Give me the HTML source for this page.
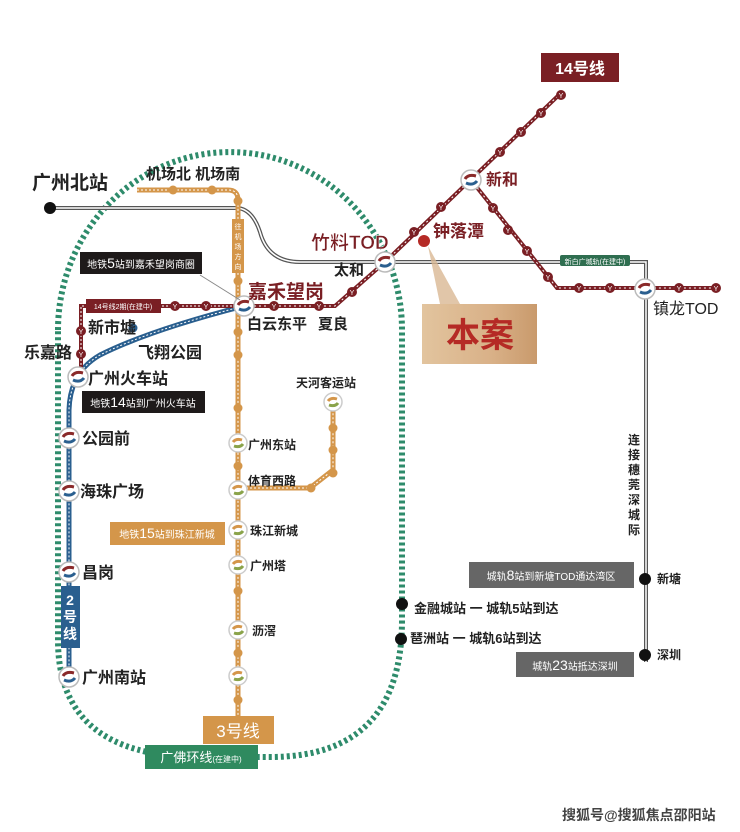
<!DOCTYPE html>
<html><head><meta charset="utf-8"><style>
html,body{margin:0;padding:0;background:#fff;}
svg{display:block;}
text{font-family:"Liberation Sans","Noto Sans CJK SC",sans-serif;}
</style></head><body>
<svg width="740" height="832" viewBox="0 0 740 832" xmlns="http://www.w3.org/2000/svg">
<defs>
<linearGradient id="g" x1="0" y1="0" x2="1" y2="0"><stop offset="0" stop-color="#e2c49e"/><stop offset="0.6" stop-color="#d9b188"/><stop offset="1" stop-color="#c99a6c"/></linearGradient>
<g id="st"><circle r="10" fill="#fff" stroke="#bbb" stroke-width="1.5"/><path d="M-6,-1 Q-3,-6 5,-4" stroke="#8a2a2a" stroke-width="3" fill="none"/><path d="M-5,3 Q2,6 6,1" stroke="#2a5f8f" stroke-width="3" fill="none"/></g>
<g id="sto"><circle r="9" fill="#fff" stroke="#ccc" stroke-width="1.5"/><path d="M-5,-1 Q-2,-5 4,-3" stroke="#d4964a" stroke-width="3" fill="none"/><path d="M-4,3 Q2,5 5,1" stroke="#8aa34a" stroke-width="3" fill="none"/></g>
<g id="y"><circle r="5" fill="#7a1f24"/><text y="3" font-size="7" fill="#fff" text-anchor="middle">Y</text></g>
<g id="yo"><circle r="4.5" fill="#d4964a"/></g>
</defs>

<!-- green loop -->
<path d="M58,330 A172,178 0 0 1 402,330 L402,620 Q402,757 270,757 L200,757 Q58,757 58,640 Z" fill="none" stroke="#2e8b6b" stroke-width="6" stroke-dasharray="3,3"/>

<!-- gray intercity line -->
<path d="M50,208 L236,208 Q252,208 260,232 Q268,262 300,262 L646,262 L646,662" fill="none" stroke="#555" stroke-width="4"/>
<path d="M50,208 L236,208 Q252,208 260,232 Q268,262 300,262 L646,262 L646,662" fill="none" stroke="#fff" stroke-width="1.5"/>
<circle cx="50" cy="208" r="6" fill="#111"/>
<rect x="560" y="255" width="70" height="11" rx="2" fill="#2f6e50"/>
<text x="595" y="264" font-size="7" fill="#fff" text-anchor="middle">新白广城轨(在建中)</text>

<!-- line 3 -->
<path d="M137,190 L228,190 Q238,190 238,200 L238,718" fill="none" stroke="#d4964a" stroke-width="5"/>
<path d="M137,190 L228,190 Q238,190 238,200 L238,718" fill="none" stroke="#fff" stroke-width="1" stroke-dasharray="2,2"/>
<path d="M238,488 L310,488 L333,470 L333,402" fill="none" stroke="#d4964a" stroke-width="5"/>
<path d="M238,488 L310,488 L333,470 L333,402" fill="none" stroke="#fff" stroke-width="1" stroke-dasharray="2,2"/>
<use href="#yo" x="173" y="190"/><use href="#yo" x="212" y="190"/><use href="#yo" x="238" y="201"/><use href="#yo" x="238" y="281"/>
<use href="#yo" x="238" y="332"/><use href="#yo" x="238" y="355"/><use href="#yo" x="238" y="408"/><use href="#yo" x="238" y="466"/><use href="#yo" x="238" y="591"/><use href="#yo" x="238" y="653"/><use href="#yo" x="238" y="700"/>
<use href="#yo" x="311" y="488"/><use href="#yo" x="333" y="428"/><use href="#yo" x="333" y="450"/><use href="#yo" x="333" y="473"/>
<rect x="232" y="219" width="12" height="54" fill="#d4964a"/>
<text font-size="7" fill="#fff" text-anchor="middle"><tspan x="238" y="229">往</tspan><tspan x="238" y="239">机</tspan><tspan x="238" y="249">场</tspan><tspan x="238" y="259">方</tspan><tspan x="238" y="269">向</tspan></text>
<rect x="203" y="716" width="71" height="28" fill="#d4964a"/>
<text x="238" y="737" font-size="17" fill="#fff" text-anchor="middle">3号线</text>

<!-- line 2 -->
<path d="M244,306 Q150,330 100,355 Q70,372 69,410 L69,680" fill="none" stroke="#2a5f8f" stroke-width="5"/>
<path d="M244,306 Q150,330 100,355 Q70,372 69,410 L69,680" fill="none" stroke="#fff" stroke-width="1" stroke-dasharray="2,2"/>
<circle cx="133" cy="328" r="4.5" fill="#2a5f8f"/>
<rect x="61" y="586" width="19" height="62" fill="#2a5f8f"/>
<text font-size="14" font-weight="bold" fill="#fff" text-anchor="middle"><tspan x="70" y="605">2</tspan><tspan x="70" y="622">号</tspan><tspan x="70" y="639">线</tspan></text>

<!-- line 14 phase 2 -->
<path d="M244,306 L81,306 L81,378" fill="none" stroke="#7a1f24" stroke-width="4"/>
<path d="M244,306 L81,306 L81,378" fill="none" stroke="#fff" stroke-width="1" stroke-dasharray="2,2"/>
<rect x="86" y="299" width="75" height="14" fill="#7a1f24"/>
<text x="123" y="309" font-size="7" fill="#fff" text-anchor="middle">14号线2期(在建中)</text>
<use href="#y" x="175" y="306"/><use href="#y" x="206" y="306"/><use href="#y" x="81" y="331"/><use href="#y" x="81" y="354"/>

<!-- line 14 main -->
<path d="M244,306 L335,306 L385,262 L562,92" fill="none" stroke="#7a1f24" stroke-width="4"/>
<path d="M471,180 L557,288 L720,288" fill="none" stroke="#7a1f24" stroke-width="4"/>
<path d="M244,306 L335,306 L385,262 L562,92 M471,180 L557,288 L720,288" fill="none" stroke="#fff" stroke-width="1" stroke-dasharray="2,3"/>
<use href="#y" x="274" y="306"/><use href="#y" x="319" y="306"/><use href="#y" x="352" y="292"/>
<use href="#y" x="414" y="232"/><use href="#y" x="441" y="207"/><use href="#y" x="500" y="152"/><use href="#y" x="521" y="132"/><use href="#y" x="541" y="113"/><use href="#y" x="561" y="95"/>
<use href="#y" x="493" y="208"/><use href="#y" x="508" y="230"/><use href="#y" x="527" y="251"/><use href="#y" x="548" y="277"/>
<use href="#y" x="579" y="288"/><use href="#y" x="610" y="288"/><use href="#y" x="679" y="288"/><use href="#y" x="716" y="288"/>
<rect x="541" y="53" width="78" height="29" fill="#7a1f24"/>
<text x="580" y="74" font-size="16" font-weight="bold" fill="#fff" text-anchor="middle">14号线</text>

<!-- stations -->
<use href="#st" x="244" y="306"/><use href="#st" x="385" y="262"/><use href="#st" x="471" y="180"/><use href="#st" x="645" y="289"/>
<use href="#st" x="78" y="377"/><use href="#st" x="69" y="438"/><use href="#st" x="69" y="491"/><use href="#st" x="69" y="572"/><use href="#st" x="69" y="677"/>
<use href="#sto" x="238" y="443"/><use href="#sto" x="238" y="490"/><use href="#sto" x="238" y="530"/><use href="#sto" x="238" y="565"/><use href="#sto" x="238" y="630"/><use href="#sto" x="238" y="676"/><use href="#sto" x="333" y="402"/>
<circle cx="424" cy="241" r="6" fill="#b52a25"/>

<!-- 本案 -->
<polygon points="428,246 460,304 440,304" fill="#d9b894" opacity="0.8"/>
<rect x="422" y="304" width="115" height="60" fill="url(#g)"/>
<text x="480" y="347" font-size="34" font-weight="bold" fill="#b52a25" text-anchor="middle">本案</text>

<!-- black dots -->
<circle cx="402" cy="604" r="6" fill="#111"/><circle cx="401" cy="639" r="6" fill="#111"/>
<circle cx="645" cy="579" r="6" fill="#111"/><circle cx="645" cy="655" r="6" fill="#111"/>

<!-- labels -->
<g fill="#222" font-weight="bold">
<text x="32" y="189" font-size="19">广州北站</text>
<text x="146" y="179" font-size="15">机场北 机场南</text>
<text x="247" y="329" font-size="15">白云东平</text>
<text x="318" y="329" font-size="15">夏良</text>
<text x="334" y="275" font-size="15">太和</text>
<text x="88" y="333" font-size="16">新市墟</text>
<text x="24" y="358" font-size="16">乐嘉路</text>
<text x="138" y="358" font-size="16">飞翔公园</text>
<text x="88" y="384" font-size="16">广州火车站</text>
<text x="82" y="444" font-size="16">公园前</text>
<text x="80" y="497" font-size="16">海珠广场</text>
<text x="82" y="578" font-size="16">昌岗</text>
<text x="82" y="683" font-size="16">广州南站</text>
<text x="296" y="387" font-size="12">天河客运站</text>
<text x="248" y="449" font-size="12">广州东站</text>
<text x="248" y="485" font-size="12">体育西路</text>
<text x="250" y="535" font-size="12">珠江新城</text>
<text x="250" y="570" font-size="12">广州塔</text>
<text x="252" y="635" font-size="12">沥滘</text>
<text x="414" y="613" font-size="13">金融城站 一 城轨5站到达</text>
<text x="410" y="643" font-size="13">琶洲站 一 城轨6站到达</text>
<text x="657" y="583" font-size="12">新塘</text>
<text x="657" y="659" font-size="12">深圳</text>
<text font-size="12" text-anchor="middle"><tspan x="634" y="444">连</tspan><tspan x="634" y="459">接</tspan><tspan x="634" y="474">穗</tspan><tspan x="634" y="489">莞</tspan><tspan x="634" y="504">深</tspan><tspan x="634" y="519">城</tspan><tspan x="634" y="534">际</tspan></text>
</g>
<text x="311" y="249" font-size="19" font-weight="bold" fill="#7a1f24" stroke="#fff" stroke-width="0.5">竹料TOD</text>
<text x="433" y="237" font-size="17" font-weight="bold" fill="#7a1f24">钟落潭</text>
<text x="486" y="185" font-size="16" font-weight="bold" fill="#7a1f24">新和</text>
<text x="248" y="298" font-size="19" font-weight="bold" fill="#7a1f24">嘉禾望岗</text>
<text x="653" y="314" font-size="16" fill="#222">镇龙TOD</text>

<!-- info boxes -->
<rect x="80" y="252" width="122" height="22" fill="#1e1a1a"/>
<text x="141" y="268" font-size="10" fill="#fff" text-anchor="middle">地铁<tspan font-size="14">5</tspan>站到嘉禾望岗商圈</text>
<line x1="200" y1="275" x2="240" y2="300" stroke="#888" stroke-width="1"/>
<rect x="82" y="391" width="123" height="22" fill="#1e1a1a"/>
<text x="143" y="407" font-size="10" fill="#fff" text-anchor="middle">地铁<tspan font-size="14">14</tspan>站到广州火车站</text>
<rect x="110" y="522" width="115" height="23" fill="#d4964a"/>
<text x="167" y="538" font-size="10" fill="#fff" text-anchor="middle">地铁<tspan font-size="14">15</tspan>站到珠江新城</text>
<rect x="469" y="562" width="165" height="26" fill="#666"/>
<text x="551" y="580" font-size="10" fill="#fff" text-anchor="middle">城轨<tspan font-size="14">8</tspan>站到新塘TOD通达湾区</text>
<rect x="516" y="652" width="118" height="25" fill="#666"/>
<text x="575" y="670" font-size="10" fill="#fff" text-anchor="middle">城轨<tspan font-size="14">23</tspan>站抵达深圳</text>
<rect x="145" y="745" width="113" height="24" fill="#2f8a5f"/>
<text x="201" y="762" font-size="13" fill="#fff" text-anchor="middle">广佛环线<tspan font-size="8">(在建中)</tspan></text>

<text x="562" y="820" font-size="14" font-weight="bold" fill="#444">搜狐号@搜狐焦点邵阳站</text>
</svg>
</body></html>
